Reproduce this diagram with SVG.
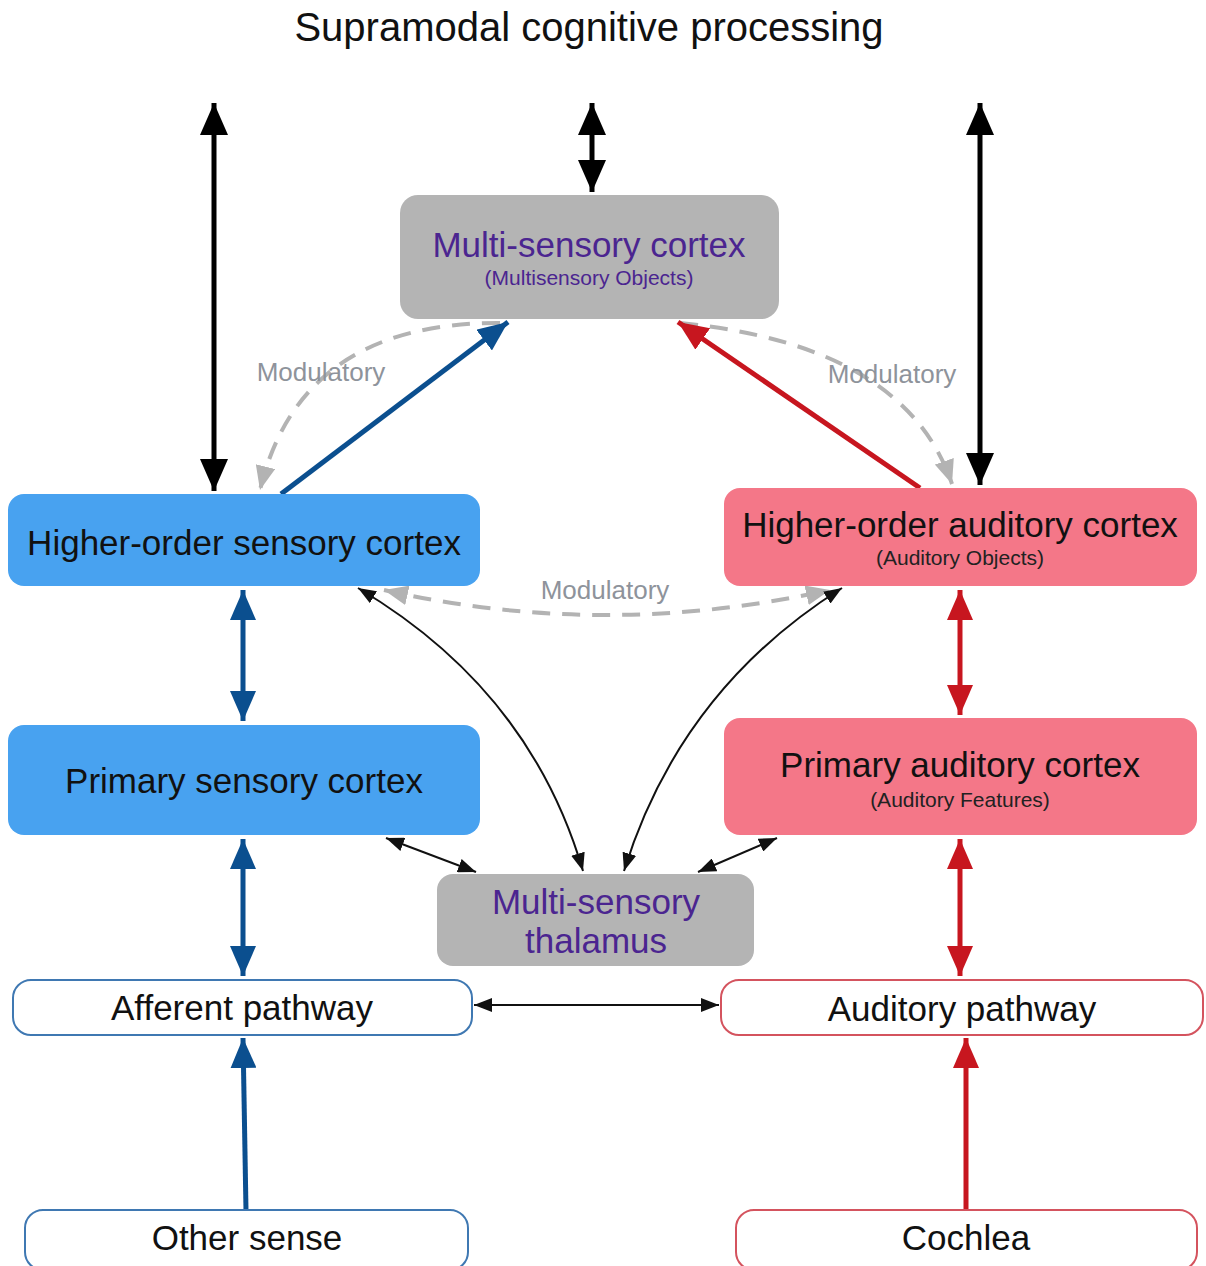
<svg xmlns="http://www.w3.org/2000/svg" width="1206" height="1266" viewBox="0 0 1206 1266">
<style>
text{font-family:"Liberation Sans",Arial,sans-serif;text-anchor:middle}
.t{font-size:35px;fill:#111}
.s{font-size:21px;fill:#222}
.p{fill:#4b2590}
.mod{font-size:26px;fill:#8e939b}
.gray{fill:#b4b4b4}
.blue{fill:#48a2f0}
.pink{fill:#f47788}
.ob{fill:#fff;stroke:#3f78b2;stroke-width:2}
.or{fill:#fff;stroke:#d4535e;stroke-width:2}
.kB{stroke:#000;stroke-width:5;fill:none}
.bB{stroke:#0b4f8f;stroke-width:5;fill:none}
.rB{stroke:#c7161f;stroke-width:5;fill:none}
.thin{stroke:#111;stroke-width:2;fill:none}
.dash{stroke:#b3b3b3;stroke-width:4;fill:none;stroke-dasharray:18 12}
</style>
<defs>
<marker id="ak" markerUnits="userSpaceOnUse" viewBox="0 0 32 28" refX="32" refY="14" markerWidth="32" markerHeight="28" orient="auto-start-reverse"><path d="M0,0 L32,14 L0,28 z" fill="#000"/></marker>
<marker id="ab" markerUnits="userSpaceOnUse" viewBox="0 0 30 26" refX="30" refY="13" markerWidth="30" markerHeight="26" orient="auto-start-reverse"><path d="M0,0 L30,13 L0,26 z" fill="#0b4f8f"/></marker>
<marker id="ar" markerUnits="userSpaceOnUse" viewBox="0 0 30 26" refX="30" refY="13" markerWidth="30" markerHeight="26" orient="auto-start-reverse"><path d="M0,0 L30,13 L0,26 z" fill="#c7161f"/></marker>
<marker id="at" markerUnits="userSpaceOnUse" viewBox="0 0 18 14" refX="18" refY="7" markerWidth="18" markerHeight="14" orient="auto-start-reverse"><path d="M0,0 L18,7 L0,14 z" fill="#111"/></marker>
<marker id="ag" markerUnits="userSpaceOnUse" viewBox="0 0 24 20" refX="24" refY="10" markerWidth="24" markerHeight="20" orient="auto-start-reverse"><path d="M0,0 L24,10 L0,20 z" fill="#b3b3b3"/></marker>
</defs>
<rect width="1206" height="1266" fill="#fff"/>
<text x="589" y="41" style="font-size:40px;fill:#111">Supramodal cognitive processing</text>

<g id="connectors">
<path class="dash" d="M500,323 Q300,322 260,490" marker-end="url(#ag)"/>
<path class="dash" d="M680,323 Q905,345 952,484" marker-end="url(#ag)"/>
<path class="dash" d="M384,590 Q605,640 830,590" marker-start="url(#ag)" marker-end="url(#ag)"/>
<line class="kB" x1="214" y1="103" x2="214" y2="491" marker-start="url(#ak)" marker-end="url(#ak)"/>
<line class="kB" x1="592" y1="103" x2="592" y2="192" marker-start="url(#ak)" marker-end="url(#ak)"/>
<line class="kB" x1="980" y1="103" x2="980" y2="485" marker-start="url(#ak)" marker-end="url(#ak)"/>
<line class="bB" x1="281" y1="494" x2="508" y2="322" marker-end="url(#ab)"/>
<line class="rB" x1="920" y1="488" x2="678" y2="322" marker-end="url(#ar)"/>
<line class="bB" x1="243" y1="590" x2="243" y2="721" marker-start="url(#ab)" marker-end="url(#ab)"/>
<line class="rB" x1="960" y1="590" x2="960" y2="715" marker-start="url(#ar)" marker-end="url(#ar)"/>
<line class="bB" x1="243" y1="839" x2="243" y2="976" marker-start="url(#ab)" marker-end="url(#ab)"/>
<line class="rB" x1="960" y1="839" x2="960" y2="976" marker-start="url(#ar)" marker-end="url(#ar)"/>
<line class="bB" x1="246" y1="1211" x2="243" y2="1038" marker-end="url(#ab)"/>
<line class="rB" x1="966" y1="1211" x2="966" y2="1038" marker-end="url(#ar)"/>
<path class="thin" d="M358,588 Q530,690 583,871" marker-start="url(#at)" marker-end="url(#at)"/>
<path class="thin" d="M842,588 Q680,690 624,871" marker-start="url(#at)" marker-end="url(#at)"/>
<line class="thin" x1="386" y1="838" x2="476" y2="872" marker-start="url(#at)" marker-end="url(#at)"/>
<line class="thin" x1="777" y1="838" x2="698" y2="872" marker-start="url(#at)" marker-end="url(#at)"/>
<line class="thin" x1="474" y1="1005" x2="719" y2="1005" marker-start="url(#at)" marker-end="url(#at)"/>
</g>

<text class="mod" x="321" y="381">Modulatory</text>
<text class="mod" x="892" y="383">Modulatory</text>
<text class="mod" x="605" y="599">Modulatory</text>

<g id="multisensory-cortex">
<rect class="gray" x="400" y="195" width="379" height="124" rx="18"/>
<text class="t p" x="589" y="257">Multi-sensory cortex</text>
<text class="s p" x="589" y="285">(Multisensory Objects)</text>
</g>
<g id="higher-order-sensory">
<rect class="blue" x="8" y="494" width="472" height="92" rx="16"/>
<text class="t" x="244" y="555">Higher-order sensory cortex</text>
</g>
<g id="higher-order-auditory">
<rect class="pink" x="724" y="488" width="473" height="98" rx="16"/>
<text class="t" x="960" y="537">Higher-order auditory cortex</text>
<text class="s" x="960" y="565">(Auditory Objects)</text>
</g>
<g id="primary-sensory">
<rect class="blue" x="8" y="725" width="472" height="110" rx="16"/>
<text class="t" x="244" y="793">Primary sensory cortex</text>
</g>
<g id="primary-auditory">
<rect class="pink" x="724" y="718" width="473" height="117" rx="16"/>
<text class="t" x="960" y="777">Primary auditory cortex</text>
<text class="s" x="960" y="807">(Auditory Features)</text>
</g>
<g id="multisensory-thalamus">
<rect class="gray" x="437" y="874" width="317" height="92" rx="16"/>
<text class="t p" x="596" y="914">Multi-sensory</text>
<text class="t p" x="596" y="953">thalamus</text>
</g>
<g id="afferent-pathway">
<rect class="ob" x="13" y="980" width="459" height="55" rx="18"/>
<text class="t" x="242" y="1020">Afferent pathway</text>
</g>
<g id="auditory-pathway">
<rect class="or" x="721" y="980" width="482" height="55" rx="18"/>
<text class="t" x="962" y="1021">Auditory pathway</text>
</g>
<g id="other-sense">
<rect class="ob" x="25" y="1210" width="443" height="60" rx="18"/>
<text class="t" x="247" y="1250">Other sense</text>
</g>
<g id="cochlea">
<rect class="or" x="736" y="1210" width="461" height="60" rx="18"/>
<text class="t" x="966" y="1250">Cochlea</text>
</g>
</svg>
